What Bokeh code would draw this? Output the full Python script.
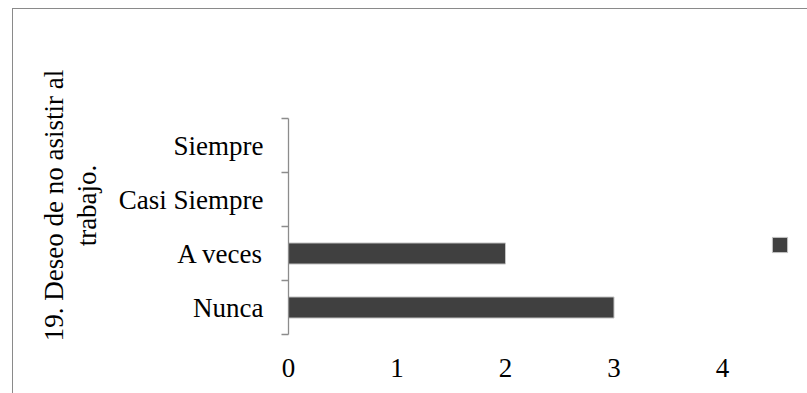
from bokeh.plotting import figure
from bokeh.models import Range1d, FixedTicker, Legend, LegendItem, ColumnDataSource
from bokeh.embed import file_html
from bokeh.resources import INLINE

# ---- data ----
categories = ["Nunca", "A veces", "Casi Siempre", "Siempre"]
values = [3, 2, 0, 0]
x_ticks = [0, 1, 2, 3, 4]
title_lines = ["19. Deseo de no asistir al", "trabajo."]

FONT = "Liberation Serif"
FS = "27px"
AXIS_GRAY = "#8c8c8c"

n = len(categories)
ys = [i + 0.5 for i in range(n)]
src = ColumnDataSource(dict(y=ys, v=values, cat=categories))

# plot frame spans to the right edge so the legend swatch is not clipped;
# the value axis still shows 0..4 over the original 434 px
x_max = max(x_ticks)
x_end = x_max * (795 - 275) / 434

p = figure(width=795, height=385, output_backend="svg", toolbar_location=None,
           x_range=Range1d(0, x_end), y_range=Range1d(0, n * 258 / 216),
           min_border_left=275, min_border_right=0,
           min_border_top=67, min_border_bottom=60)
p.margin = (8, 0, 0, 12)
p.styles = {"border-left": "1px solid #8a8a8a", "border-top": "1px solid #8a8a8a"}
p.outline_line_color = None
p.background_fill_color = "white"
p.border_fill_color = "white"
p.xgrid.visible = False
p.ygrid.visible = False

bars = p.hbar(y="y", right="v", left=0, height=0.39, source=src,
              fill_color="#404040", line_color="#c4c4c4", line_width=1)

# x axis: labels only
p.xaxis.ticker = FixedTicker(ticks=x_ticks)
p.xaxis.axis_line_color = None
p.xaxis.major_tick_line_color = None
p.xaxis.minor_tick_line_color = None
p.xaxis.major_label_text_font = FONT
p.xaxis.major_label_text_font_size = FS
p.xaxis.major_label_text_color = "black"
p.xaxis.major_label_standoff = 18

# y axis: labels at category centres, tick marks at boundaries
p.yaxis.bounds = (0, n)
p.yaxis.ticker = FixedTicker(ticks=ys, minor_ticks=list(range(n + 1)))
p.yaxis.major_label_overrides = {y: c for y, c in zip(ys, categories)}
p.yaxis.axis_line_color = AXIS_GRAY
p.yaxis.axis_line_width = 1.3
p.yaxis.major_tick_line_color = None
p.yaxis.major_tick_out = 0
p.yaxis.major_tick_in = 0
p.yaxis.minor_tick_line_color = AXIS_GRAY
p.yaxis.minor_tick_line_width = 1.3
p.yaxis.minor_tick_out = 7
p.yaxis.minor_tick_in = 0
p.yaxis.major_label_text_font = FONT
p.yaxis.major_label_text_font_size = FS
p.yaxis.major_label_text_color = "black"
p.yaxis.major_label_standoff = 18

p.yaxis.axis_label = "\n".join(title_lines)
p.yaxis.axis_label_text_font = FONT
p.yaxis.axis_label_text_font_size = FS
p.yaxis.axis_label_text_font_style = "normal"
p.yaxis.axis_label_text_color = "black"
p.yaxis.axis_label_text_line_height = 1.1
p.yaxis.axis_label_standoff = 14

# legend: single swatch, no text
legend = Legend(items=[LegendItem(label="", renderers=[bars])],
                location=(482, 80), glyph_width=19, glyph_height=19,
                label_height=19, label_width=0, label_standoff=0,
                padding=0, margin=0, spacing=0,
                border_line_color=None, background_fill_alpha=0)
p.add_layout(legend, "center")

open("out.html", "w").write(file_html(p, INLINE))
